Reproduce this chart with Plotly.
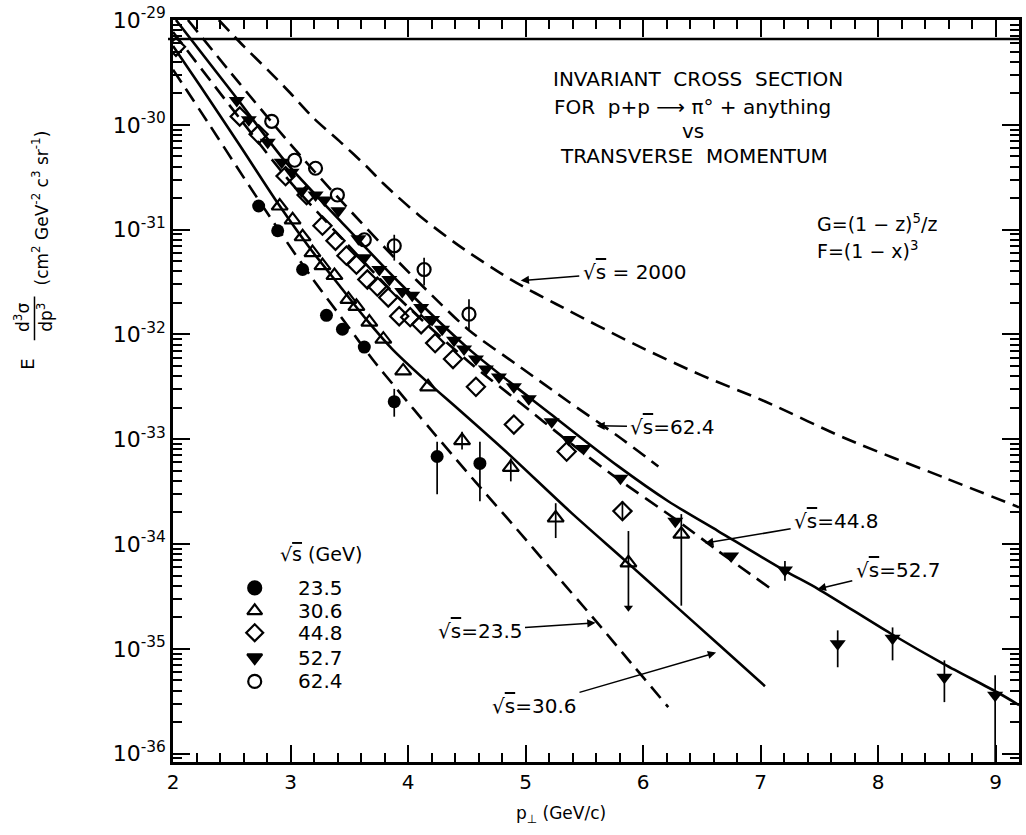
import plotly.graph_objects as go

FONT = "DejaVu Sans"

# ---------------- theoretical curves (pT in GeV/c, E d3s/dp3 in cm^2 GeV^-2 c^3 sr^-1)
c2000_pt = [2.39, 2.61, 2.81, 3.00, 3.20, 3.43, 3.65, 3.79, 4.10, 4.43, 4.88, 5.26, 5.94, 6.50, 7.04, 7.72, 8.57, 9.20]
c2000_e = [1.0e-29, 5.50e-30, 3.31e-30, 2.00e-30, 1.15e-30, 6.76e-31, 3.98e-31, 2.75e-31, 1.35e-31, 7.08e-32,
           3.31e-32, 1.95e-32, 7.94e-33, 4.07e-33, 2.29e-33, 1.02e-33, 4.27e-34, 2.24e-34]

c624_pt = [2.127, 2.568, 2.992, 3.416, 3.925, 4.265, 4.519, 4.943, 5.367, 5.791, 6.131]
c624_e = [1.0e-29, 2.47e-30, 6.67e-31, 1.96e-31, 4.84e-32, 2.02e-32, 1.096e-32, 4.99e-33, 2.28e-33, 1.06e-33, 5.50e-34]

c527_pt = [2.025, 2.551, 2.967, 3.416, 3.925, 4.519, 5.223, 5.791, 6.215, 6.639, 7.208, 7.488, 8.107, 8.565, 9.014, 9.201]
c527_e = [1.0e-29, 1.742e-30, 4.31e-31, 1.239e-31, 3.126e-32, 7.24e-33, 1.71e-33, 5.50e-34, 2.56e-34, 1.33e-34,
          5.55e-35, 3.74e-35, 1.40e-35, 7.11e-36, 3.85e-36, 2.90e-36]

c448_pt = [2.000, 2.568, 2.992, 3.416, 3.925, 4.519, 4.943, 5.367, 5.791, 6.275, 6.639, 7.089]
c448_e = [7.69e-30, 1.15e-30, 2.90e-31, 8.73e-32, 2.20e-32, 5.45e-33, 2.28e-33, 9.48e-34, 4.14e-34, 1.73e-34, 8.59e-35, 3.74e-35]

c306_pt = [2.000, 2.229, 2.568, 2.891, 3.162, 3.416, 3.645, 3.866, 4.154, 4.434, 4.833, 5.393, 5.851, 6.241, 6.639, 7.038]
c306_e = [5.66e-30, 2.37e-30, 6.38e-31, 1.79e-31, 6.71e-32, 2.93e-32, 1.39e-32, 7.24e-33, 3.60e-33, 1.91e-33,
          7.62e-34, 1.97e-34, 6.90e-35, 2.79e-35, 1.11e-35, 4.40e-36]

c235_pt = [2.000, 2.314, 2.611, 2.933, 3.187, 3.476, 3.696, 3.925, 4.180, 4.375, 4.578, 4.918, 5.223, 5.596, 5.851, 6.215]
c235_e = [3.36e-30, 9.86e-31, 3.03e-31, 8.73e-32, 3.41e-32, 1.25e-32, 5.82e-33, 2.83e-33, 1.29e-33, 7.14e-34,
          3.87e-34, 1.42e-34, 5.66e-35, 1.86e-35, 8.47e-36, 2.78e-36]

# ---------------- measured points
d235_pt = [2.729, 2.891, 3.103, 3.306, 3.442, 3.628, 3.883, 4.248, 4.612]
d235_e = [1.68e-31, 9.75e-32, 4.16e-32, 1.52e-32, 1.12e-32, 7.57e-33, 2.28e-33, 6.84e-34, 5.87e-34]
d235_hi = [None, None, None, None, None, None, 3.02e-33, 9.48e-34, 9.48e-34]
d235_lo = [None, None, None, None, None, None, 1.64e-33, 2.98e-34, 2.56e-34]

d306_pt = [2.908, 3.018, 3.103, 3.187, 3.272, 3.374, 3.493, 3.561, 3.671, 3.790, 3.959, 4.171, 4.460, 4.875,
           5.257, 5.876, 6.326]
d306_e = [1.68e-31, 1.24e-31, 8.55e-32, 6.03e-32, 4.54e-32, 3.65e-32, 2.16e-32, 1.85e-32, 1.31e-32, 9.0e-33,
          4.48e-33, 3.16e-33, 9.70e-34, 5.38e-34, 1.77e-34, 6.61e-35, 1.24e-34]
d306_hi = [None] * 12 + [1.18e-33, 6.55e-34, 2.45e-34, 1.33e-34, 1.93e-34]
d306_lo = [None] * 12 + [7.96e-34, 3.96e-34, 1.14e-34, 2.47e-35, 2.58e-35]
d306_arrow = [False] * 15 + [True, False]

d448_pt = [2.025, 2.568, 2.729, 2.958, 3.137, 3.272, 3.383, 3.476, 3.561, 3.654, 3.739, 3.832, 3.925, 4.019,
           4.112, 4.231, 4.383, 4.578, 4.901, 5.350, 5.825]
d448_e = [5.55e-30, 1.20e-30, 8.11e-31, 3.24e-31, 2.14e-31, 1.09e-31, 7.83e-32, 5.64e-32, 4.63e-32, 3.34e-32,
          2.86e-32, 2.25e-32, 1.49e-32, 1.46e-32, 1.25e-32, 8.26e-33, 5.82e-33, 3.16e-33, 1.38e-33, 7.62e-34, 2.06e-34]
d448_hi = [None] * 20 + [2.56e-34]
d448_lo = [None] * 20 + [1.73e-34]

d527_pt = [2.543, 2.645, 2.806, 2.925, 3.009, 3.094, 3.213, 3.289, 3.408, 3.578, 3.628, 3.756, 3.841, 3.951,
           4.036, 4.112, 4.205, 4.290, 4.392, 4.477, 4.578, 4.663, 4.774, 4.901, 5.028, 5.223, 5.367, 5.494,
           5.808, 6.275, 6.750, 7.208, 7.657, 8.124, 8.565, 8.997]
d527_e = [1.71e-30, 1.12e-30, 6.81e-31, 4.40e-31, 3.53e-31, 2.33e-31, 2.14e-31, 1.92e-31, 1.51e-31, 8.18e-32,
          5.40e-32, 4.16e-32, 3.34e-32, 2.57e-32, 2.36e-32, 1.81e-32, 1.39e-32, 1.12e-32, 8.81e-33, 7.24e-33,
          5.82e-33, 4.68e-33, 3.93e-33, 3.16e-33, 2.43e-33, 1.47e-33, 9.91e-34, 8.15e-34, 4.23e-34, 1.65e-34,
          7.69e-35, 5.66e-35, 1.12e-35, 1.26e-35, 5.36e-36, 3.61e-36]
d527_hi = [None] * 31 + [6.90e-35, 1.50e-35, 1.60e-35, 7.76e-36, 5.60e-36]
d527_lo = [None] * 31 + [4.46e-35, 6.67e-36, 7.76e-36, 3.10e-36, 5.0e-37]

d624_pt = [2.840, 3.035, 3.213, 3.399, 3.628, 3.883, 4.137, 4.519]
d624_e = [1.08e-30, 4.59e-31, 3.85e-31, 2.14e-31, 8.0e-32, 7.01e-32, 4.16e-32, 1.56e-32]
d624_hi = [None, None, None, None, None, 8.93e-32, 5.40e-32, 2.16e-32]
d624_lo = [None, None, None, None, None, 5.06e-32, 2.93e-32, 1.12e-32]

legend_names = ["23.5", "30.6", "44.8", "52.7", "62.4"]

y_tickvals = [1e-36, 1e-35, 1e-34, 1e-33, 1e-32, 1e-31, 1e-30, 1e-29]
y_ticktext = ["10<sup>-36</sup>", "10<sup>-35</sup>", "10<sup>-34</sup>", "10<sup>-33</sup>",
              "10<sup>-32</sup>", "10<sup>-31</sup>", "10<sup>-30</sup>", "10<sup>-29</sup>"]
x_tickvals = [2, 3, 4, 5, 6, 7, 8, 9]

# ---------------- layout geometry (pixels)
W, H = 1026, 835
L, R, T, B = 173, 1022, 16, 762


def px(x):
    return (x - L) / (R - L)


def py(y):
    return (B - y) / (B - T)


fig = go.Figure()

DASH = "15px,8px"
curves = [
    (c2000_pt, c2000_e, DASH),
    (c624_pt, c624_e, DASH),
    (c527_pt, c527_e, "solid"),
    (c448_pt, c448_e, DASH),
    (c306_pt, c306_e, "solid"),
    (c235_pt, c235_e, DASH),
]
for xs, ys, dash in curves:
    fig.add_trace(go.Scatter(x=xs, y=ys, mode="lines", showlegend=False, hoverinfo="skip",
                             line=dict(color="black", width=2.6, dash=dash, shape="spline", smoothing=0.8)))


def err(vals, hi, lo):
    up = [(h - v) if h is not None else 0 for v, h in zip(vals, hi)]
    dn = [(v - l) if l is not None else 0 for v, l in zip(vals, lo)]
    return dict(type="data", symmetric=False, array=up, arrayminus=dn,
                color="black", thickness=1.7, width=0)


markers = [
    dict(symbol="circle", size=13, color="black"),
    dict(symbol="triangle-up-open", size=14, color="black", line=dict(width=2.2, color="black")),
    dict(symbol="diamond-open", size=14, color="black", line=dict(width=2.2, color="black")),
    dict(symbol="triangle-down", size=14, color="black"),
    dict(symbol="circle-open", size=13, color="black", line=dict(width=2.2, color="black")),
]
series = [
    (d235_pt, d235_e, d235_hi, d235_lo),
    (d306_pt, d306_e, d306_hi, d306_lo),
    (d448_pt, d448_e, d448_hi, d448_lo),
    (d527_pt, d527_e, d527_hi, d527_lo),
    (d624_pt, d624_e, d624_hi, d624_lo),
]
for (xs, ys, hi, lo), mk, name in zip(series, markers, legend_names):
    fig.add_trace(go.Scatter(x=xs, y=ys, mode="markers", name=name, marker=mk, showlegend=False,
                             error_y=err(ys, hi, lo), hoverinfo="skip"))

# arrowhead at the bottom of the upper-limit error bar
ax_pt = [x for x, a in zip(d306_pt, d306_arrow) if a]
ax_e = [l for l, a in zip(d306_lo, d306_arrow) if a]
fig.add_trace(go.Scatter(x=ax_pt, y=ax_e, mode="markers", showlegend=False, hoverinfo="skip",
                         marker=dict(symbol="triangle-down", size=8, color="black")))

# legend key (drawn on an overlay axis spanning the plot area, 0..1)
leg_rows_px = [587, 610, 632, 657, 681]
fig.add_trace(go.Scatter(x=[px(255)] * len(leg_rows_px), y=[py(v) for v in leg_rows_px], mode="markers",
                         xaxis="x2", yaxis="y2", showlegend=False, hoverinfo="skip",
                         marker=dict(symbol=[m["symbol"] for m in markers], size=13, color="black",
                                     line=dict(width=2.2, color="black"))))

SQ = "√<span style='text-decoration:overline'>s</span>"
ann = []


def text(x, y, s, size=20, xanchor="center", angle=0):
    ann.append(dict(x=px(x), y=py(y), xref="paper", yref="paper", text=s, showarrow=False,
                    xanchor=xanchor, yanchor="middle", textangle=angle,
                    font=dict(family=FONT, size=size, color="black")))


def arrow(tipx, tipy, tx, ty, s, size=20):
    ann.append(dict(x=px(tipx), y=py(tipy), xref="paper", yref="paper", text=s, showarrow=True,
                    ax=tx - tipx, ay=ty - tipy, arrowhead=2, arrowsize=1.1, arrowwidth=1.5,
                    arrowcolor="black", standoff=0, startstandoff=2,
                    font=dict(family=FONT, size=size, color="black")))


text(700, 75, "INVARIANT  CROSS  SECTION")
text(553, 103, "FOR  p+p ⟶ π° + anything", xanchor="left")
text(695, 128, "vs")
text(696, 153, "TRANSVERSE  MOMENTUM")
text(817, 220, "G=(1 − z)<sup>5</sup>/z", size=19, xanchor="left")
text(817, 247, "F=(1 − x)<sup>3</sup>", size=19, xanchor="left")

arrow(522, 278, 636, 269, SQ + " = 2000")
arrow(598, 424, 674, 425, SQ + "=62.4")
arrow(707, 542, 838, 520, SQ + "=44.8")
arrow(820, 588, 900, 569, SQ + "=52.7")
arrow(597, 622, 481, 630, SQ + "=23.5")
arrow(718, 652, 536, 705, SQ + "=30.6")

# legend title and labels
text(322, 553, SQ + " (GeV)", size=19)
for v, name in zip(leg_rows_px, legend_names):
    text(296, v, name, size=20, xanchor="left")

# axis titles
text(562, 815, "p<sub>⊥</sub> (GeV/c)", size=17)
text(27, 362, "E", size=18, angle=-90)
text(22, 315, "d<sup>3</sup>σ", size=17, angle=-90)
text(45, 315, "dp<sup>3</sup>", size=17, angle=-90)
text(40, 205, "(cm<sup>2</sup> GeV<sup>-2</sup> c<sup>3</sup> sr<sup>-1</sup>)", size=17, angle=-90)

shapes = [
    dict(type="line", xref="paper", yref="paper", x0=px(34), x1=px(34), y0=py(294), y1=py(338),
         line=dict(color="black", width=1.5)),
    dict(type="line", xref="paper", yref="paper", x0=px(168), x1=1.0, y0=py(35), y1=py(35),
         line=dict(color="black", width=2.5)),
]

fig.update_layout(
    width=W, height=H,
    margin=dict(l=L, r=W - R, t=T, b=H - B, pad=0),
    paper_bgcolor="white", plot_bgcolor="white",
    font=dict(family=FONT, size=20, color="black"),
    annotations=ann, shapes=shapes,
    hovermode=False, showlegend=False,
    xaxis=dict(range=[2, 9.2], tickmode="array", tickvals=x_tickvals, ticks="inside", ticklen=17,
               tickwidth=2, tickcolor="black", showline=True, linewidth=2.5, linecolor="black",
               mirror="ticks", showgrid=False, zeroline=False, tickfont=dict(family=FONT, size=20),
               minor=dict(dtick=0.2, tick0=2, ticks="inside", ticklen=9, tickwidth=1.5, tickcolor="black",
                          showgrid=False)),
    yaxis=dict(type="log", range=[-36.08, -29.0], tickmode="array", tickvals=y_tickvals, ticktext=y_ticktext,
               ticks="inside", ticklen=17, tickwidth=2, tickcolor="black", showline=True, linewidth=2.5,
               linecolor="black", mirror="ticks", showgrid=False, zeroline=False,
               tickfont=dict(family=FONT, size=22),
               minor=dict(dtick="D1", ticks="inside", ticklen=9, tickwidth=1.5, tickcolor="black",
                          showgrid=False)),
    xaxis2=dict(overlaying="x", range=[0, 1], visible=False, fixedrange=True),
    yaxis2=dict(overlaying="y", range=[0, 1], visible=False, fixedrange=True),
)

fig.write_html("out.html")
